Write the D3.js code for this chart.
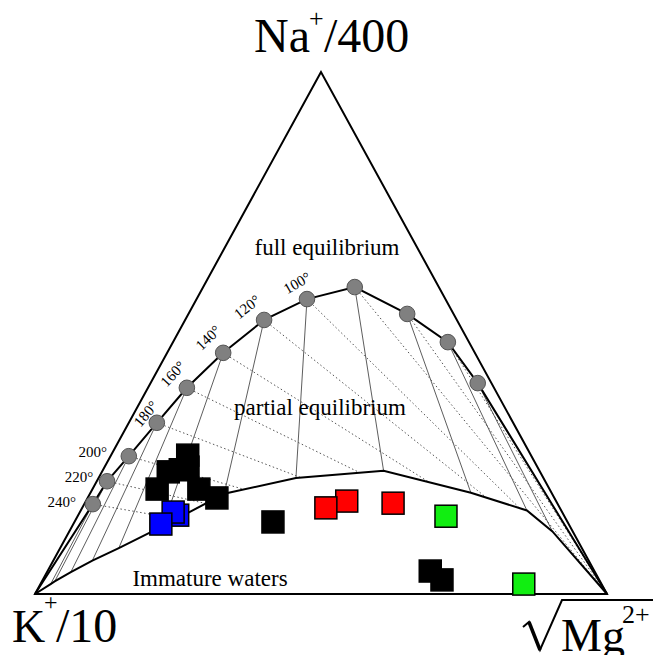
<!DOCTYPE html>
<html><head><meta charset="utf-8">
<script src="https://cdn.jsdelivr.net/npm/d3@7/dist/d3.min.js"></script>
<style>body{margin:0;background:#fff}svg{display:block}</style>
</head><body>
<svg id="chart" width="653" height="655"></svg>
<script>
// ---------- DATA (ternary %, Na+/400 : K+/10 : sqrt(Mg2+)) ----------
const temps      = [240, 220, 200, 180, 160, 140, 120, 100, 80, 60, 40, 20];
const tempLabels = ["240°", "220°", "200°", "180°", "160°", "140°", "120°", "100°"];
const eqNa  = [17.2, 21.6, 26.4, 32.8, 39.5, 46.2, 52.5, 56.5, 58.8, 53.6, 48.3, 40.4];
const eqK   = [81.2, 76.6, 70.4, 62.3, 53.7, 44.0, 33.7, 24.2, 14.7,  8.1,  3.7,  2.4];
const eqMg  = [ 1.5,  1.8,  3.2,  4.9,  6.8,  9.8, 13.8, 19.3, 26.5, 38.2, 48.1, 57.2];
const partialNa = [1.9, 2.4, 4.2, 6.4, 8.8, 13.0, 19.2, 22.2, 23.6, 19.4, 16.0, 12.0];

const blackNa = [26.6, 24.3, 23.8, 23.4, 20.1, 20.1, 18.4, 13.8, 4.4, 2.7];
const blackK  = [60.0, 61.1, 62.7, 65.0, 68.6, 61.3, 59.0, 51.5, 28.7, 27.5];
const blackMg = [13.4, 14.6, 13.5, 11.6, 11.3, 18.6, 22.6, 34.7, 66.9, 69.8];

const blueNa = [15.1, 15.7, 13.4];
const blueK  = [67.5, 68.0, 71.3];
const blueMg = [17.4, 16.3, 15.3];

const redNa = [17.8, 16.5, 17.4];
const redK  = [36.6, 40.9, 28.7];
const redMg = [45.6, 42.6, 53.9];

const greenNa = [14.9, 1.9];
const greenK  = [20.7, 13.6];
const greenMg = [64.4, 84.5];

const regionLabels = ["full equilibrium", "partial equilibrium", "Immature waters"];

// ---------- LAYOUT / STYLE ----------
const labelOffsets = [[-31,-2,0],[-28,-4,0],[-36,-4,0],[-11,-9,-50],[-14,-14,-47],[-15,-15,-44],[-17,-13,-38],[-10,-16,-30]];
const SQ = 22;
const serif = "Liberation Serif, Times New Roman, serif";
const svg = d3.select("#chart");
const xS = d3.scaleLinear().domain([0, 100]).range([35, 607]);
const yS = d3.scaleLinear().domain([0, 100]).range([594, 72]);
function P(na, k, mg) {
  const s = na + k + mg, n = na / s * 100, m = mg / s * 100;
  return [xS(m + n / 2), yS(n)];
}
const vNa = P(100,0,0), vK = P(0,100,0), vMg = P(0,0,100);
const line = d3.line();

// triangle
svg.append("path").attr("d", line([vNa, vK, vMg]) + "Z")
  .attr("fill", "none").attr("stroke", "#000").attr("stroke-width", 2);

const eqPts = temps.map((t, i) => P(eqNa[i], eqK[i], eqMg[i]));
const parPts = temps.map((t, i) => {
  const r = 100 - partialNa[i], km = eqK[i] + eqMg[i];
  return P(partialNa[i], r * eqK[i] / km, r * eqMg[i] / km);
});
const lowerCurve = [vK, ...parPts, vMg];

// thin solid lines (constant K/Mg)
svg.append("g").selectAll("path").data(temps).join("path")
  .attr("d", (t, i) => line([eqPts[i], parPts[i]]))
  .attr("stroke", "#333").attr("stroke-width", 0.8).attr("fill", "none");

// dotted lines (constant Na/K) toward Mg apex, stopped at lower curve
function segInt(p, q, a, b) {
  const r = [q[0]-p[0], q[1]-p[1]], s = [b[0]-a[0], b[1]-a[1]];
  const den = r[0]*s[1] - r[1]*s[0];
  if (Math.abs(den) < 1e-9) return null;
  const t = ((a[0]-p[0])*s[1] - (a[1]-p[1])*s[0]) / den;
  const u = ((a[0]-p[0])*r[1] - (a[1]-p[1])*r[0]) / den;
  if (t > 1e-6 && t < 1 - 1e-6 && u >= 0 && u <= 1) return t;
  return null;
}
const dotEnds = eqPts.map(p => {
  let best = 1;
  for (let j = 0; j < lowerCurve.length - 1; j++) {
    const t = segInt(p, vMg, lowerCurve[j], lowerCurve[j+1]);
    if (t !== null && t < best) best = t;
  }
  return [p[0] + (vMg[0]-p[0]) * best, p[1] + (vMg[1]-p[1]) * best];
});
svg.append("g").selectAll("path").data(temps).join("path")
  .attr("d", (t, i) => line([eqPts[i], dotEnds[i]]))
  .attr("stroke", "#555").attr("stroke-width", 1).attr("stroke-dasharray", "1.5,2.5").attr("fill", "none");

// curves
svg.append("path").attr("d", line([vK, ...eqPts, vMg]))
  .attr("fill", "none").attr("stroke", "#000").attr("stroke-width", 2);
svg.append("path").attr("d", line(lowerCurve))
  .attr("fill", "none").attr("stroke", "#000").attr("stroke-width", 2);

// circles
svg.append("g").selectAll("circle").data(eqPts).join("circle")
  .attr("cx", d => d[0]).attr("cy", d => d[1]).attr("r", 7.8)
  .attr("fill", "#808080").attr("stroke", "#555").attr("stroke-width", 1);

// temperature labels
svg.append("g").selectAll("text").data(tempLabels).join("text")
  .attr("transform", (d, i) => `translate(${eqPts[i][0] + labelOffsets[i][0]},${eqPts[i][1] + labelOffsets[i][1]}) rotate(${labelOffsets[i][2]})`)
  .attr("text-anchor", "middle").attr("dominant-baseline", "central")
  .attr("font-family", serif).attr("font-size", 15)
  .text(d => d);

// samples
const groups = [
  {na: blackNa, k: blackK, mg: blackMg, fill: "#000"},
  {na: blueNa, k: blueK, mg: blueMg, fill: "#0000ff"},
  {na: redNa, k: redK, mg: redMg, fill: "#ff0000"},
  {na: greenNa, k: greenK, mg: greenMg, fill: "#11ee11"}
];
groups.forEach(g => {
  const pts = g.na.map((n, i) => P(n, g.k[i], g.mg[i]));
  svg.append("g").selectAll("rect").data(pts).join("rect")
    .attr("x", d => d[0] - SQ/2).attr("y", d => d[1] - SQ/2)
    .attr("width", SQ).attr("height", SQ)
    .attr("fill", g.fill).attr("stroke", "#000").attr("stroke-width", 1.5);
});

// region labels
const regionPos = [[327, 255], [320, 415], [210, 586]];
svg.append("g").selectAll("text").data(regionLabels).join("text")
  .attr("x", (d, i) => regionPos[i][0]).attr("y", (d, i) => regionPos[i][1])
  .attr("text-anchor", "middle").attr("font-family", serif).attr("font-size", 23)
  .text(d => d);

// apex labels
function lab(x, y, size, txt) {
  svg.append("text").attr("x", x).attr("y", y).attr("font-family", serif)
    .attr("font-size", size).text(txt);
}
lab(254, 52, 48, "Na"); lab(309, 27, 26, "+"); lab(324, 52, 48, "/400");
lab(12, 642, 46, "K"); lab(44, 610, 24, "+"); lab(56, 642, 48, "/10");
// radical sign + overbar for sqrt(Mg2+)
svg.append("path").attr("d", "M523,627 L529,622 L540,650 L562,600 L653,600")
  .attr("fill", "none").attr("stroke", "#000").attr("stroke-width", 2).attr("stroke-linejoin", "miter");
svg.append("path").attr("d", "M529,622 L540,650")
  .attr("fill", "none").attr("stroke", "#000").attr("stroke-width", 3.5);
lab(561, 651, 46, "Mg"); lab(622, 623, 26, "2+");
</script>
</body></html>
